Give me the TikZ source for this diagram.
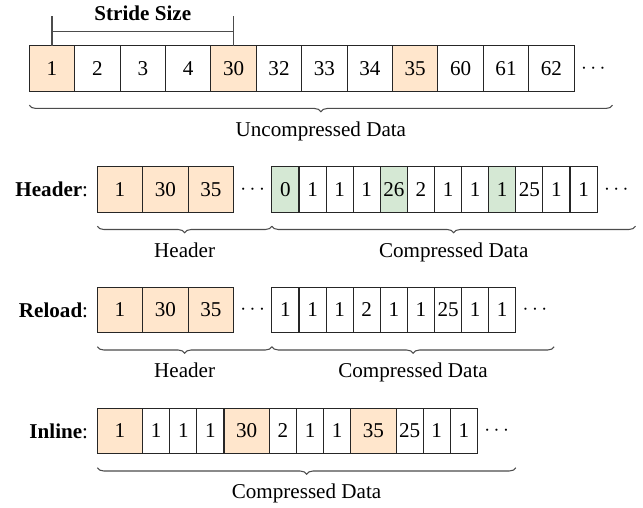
\documentclass[tikz,border=0pt]{standalone}
\usepackage{fontspec}
\setmainfont{Liberation Serif}
\usetikzlibrary{positioning,decorations.pathreplacing}
\definecolor{keyfill}{HTML}{FFE6CC}	%sampled values
\definecolor{skipfill}{HTML}{D5E8D4}	%skip markers

\begin{document}
\begin{tikzpicture}[
	font=\fontsize{12}{14}\selectfont,
	cell/.style={draw=black!85, line width=0.6pt, minimum height=0.91cm, inner sep=0pt, outer sep=0pt},
	wide/.style={cell, minimum width=0.908cm},
	wideo/.style={wide, fill=keyfill},
	narrow/.style={cell, minimum width=0.542cm},
	narrowg/.style={narrow, fill=skipfill},
	dots/.style={minimum width=0.768cm, inner sep=0pt, outer sep=0pt},
	brc/.style={decorate, decoration={brace, mirror, amplitude=0.13cm}, draw=black!70, line width=0.6pt},
	bar/.style={draw=black!70, line width=0.6pt}
]
	\useasboundingbox (0,0) rectangle (12.86,-10.16);
	\def\gap{0.28cm}	%cells to brace
	\def\lbl{0.2cm}		%brace to its label

	%uncompressed stream
	\node[wideo, anchor=west] (u1) at (0.586,-1.369) {1};
	\foreach \v/\s [count=\i from 2] in {2/wide,3/wide,4/wide,30/wideo,32/wide,33/wide,34/wide,35/wideo,60/wide,61/wide,62/wide}{
		\pgfmathtruncatemacro\p{\i-1}
		\node[\s, right=0pt of u\p] (u\i) {\v};
	}
	\node[dots, right=0pt of u12] (udots) {$\cdots$};

	%stride marker
	\draw[bar] (u1.north) -- ++(0,0.594);
	\draw[bar] (u5.north) -- ++(0,0.594);
	\draw[bar] ([yshift=0.288cm]u1.north) -- ([yshift=0.288cm]u5.north) node[midway, above=0.08cm] (stride) {\textbf{Stride Size}};
	\draw[brc] ([yshift=-\gap]u1.south west) -- ([yshift=-\gap]u1.south west -| udots.east) node[midway, below=\lbl] (ulbl) {Uncompressed Data};

	%header layout
	\node[wideo, anchor=west] (h1) at (1.946,-3.79) {1};
	\node[wideo, right=0pt of h1] (h2) {30};
	\node[wideo, right=0pt of h2] (h3) {35};
	\node[dots, right=0pt of h3] (hc0) {$\cdots$};
	\foreach \v/\s [count=\i] in {0/narrowg,1/narrow,1/narrow,1/narrow,26/narrowg,2/narrow,1/narrow,1/narrow,1/narrowg,25/narrow,1/narrow,1/narrow}{
		\pgfmathtruncatemacro\p{\i-1}
		\node[\s, right=0pt of hc\p] (hc\i) {\v};
	}
	\node[dots, right=0pt of hc12] (hdots) {$\cdots$};
	\node[left=0.06cm of h1] (hname) {\textbf{Header}:};
	\draw[brc] ([yshift=-\gap]h1.south west) -- ([yshift=-\gap]h1.south west -| hc0.east) node[midway, below=\lbl] (hlbl) {Header};
	\draw[brc] ([yshift=-\gap]hc1.south west) -- ([yshift=-\gap]hc1.south west -| hdots.east) node[midway, below=\lbl] (hclbl) {Compressed Data};

	%reload layout
	\node[wideo, anchor=west] (r1) at (1.946,-6.2) {1};
	\node[wideo, right=0pt of r1] (r2) {30};
	\node[wideo, right=0pt of r2] (r3) {35};
	\node[dots, right=0pt of r3] (rc0) {$\cdots$};
	\foreach \v [count=\i] in {1,1,1,2,1,1,25,1,1}{
		\pgfmathtruncatemacro\p{\i-1}
		\node[narrow, right=0pt of rc\p] (rc\i) {\v};
	}
	\node[dots, right=0pt of rc9] (rdots) {$\cdots$};
	\node[left=0.06cm of r1] (rname) {\textbf{Reload}:};
	\draw[brc] ([yshift=-\gap]r1.south west) -- ([yshift=-\gap]r1.south west -| rc0.east) node[midway, below=\lbl] (rlbl) {Header};
	\draw[brc] ([yshift=-\gap]rc1.south west) -- ([yshift=-\gap]rc1.south west -| rdots.east) node[midway, below=\lbl] (rclbl) {Compressed Data};

	%inline layout
	\node[wideo, anchor=west] (i1) at (1.946,-8.62) {1};
	\foreach \v/\s [count=\i from 2] in {1/narrow,1/narrow,1/narrow,30/wideo,2/narrow,1/narrow,1/narrow,35/wideo,25/narrow,1/narrow,1/narrow}{
		\pgfmathtruncatemacro\p{\i-1}
		\node[\s, right=0pt of i\p] (i\i) {\v};
	}
	\node[dots, right=0pt of i12] (idots) {$\cdots$};
	\node[left=0.06cm of i1] (iname) {\textbf{Inline}:};
	\draw[brc] ([yshift=-\gap]i1.south west) -- ([yshift=-\gap]i1.south west -| idots.east) node[midway, below=\lbl] (ilbl) {Compressed Data};
\end{tikzpicture}
\end{document}
